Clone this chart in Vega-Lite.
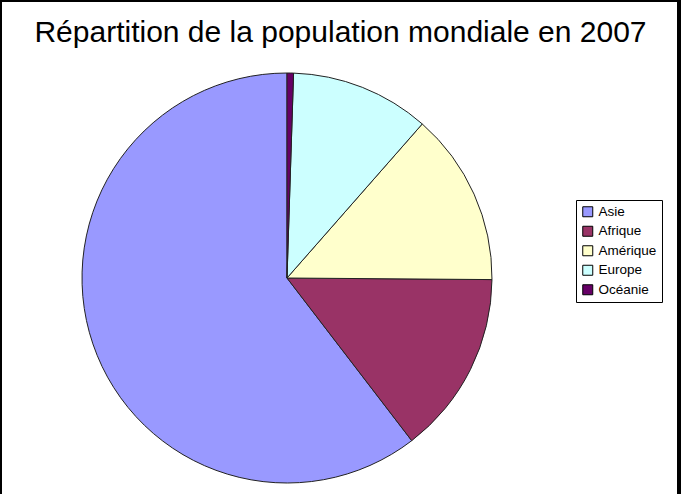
{
  "$schema": "https://vega.github.io/schema/vega-lite/v6.json",
  "width": 679,
  "height": 494,
  "autosize": {"type": "none"},
  "padding": {"left": 0, "top": 0, "right": 9, "bottom": 0},
  "background": "white",
  "title": {
    "text": "Répartition de la population mondiale en 2007",
    "font": "Liberation Sans",
    "fontSize": 30,
    "fontWeight": "normal",
    "color": "black",
    "anchor": "middle",
    "orient": "top",
    "baseline": "alphabetic",
    "offset": -43,
    "dy": 31,
    "dx": 1
  },
  "layer": [
    {
      "data": {"values": [{"cadre": 1}]},
      "mark": {"type": "rect", "fill": null, "stroke": "black", "strokeWidth": 4},
      "encoding": {"y": {"value": 0}, "y2": {"value": 504}}
    },
    {
      "data": {
        "values": [
          {"continent": "Asie", "population": 4030, "rang": 1},
          {"continent": "Afrique", "population": 965, "rang": 2},
          {"continent": "Amérique", "population": 911, "rang": 3},
          {"continent": "Europe", "population": 731, "rang": 4},
          {"continent": "Océanie", "population": 34, "rang": 5}
        ]
      },
      "mark": {"type": "arc", "outerRadius": 205, "stroke": "#222222", "strokeWidth": 1, "x": 287, "y": 278},
      "encoding": {
        "theta": {"field": "population", "type": "quantitative", "stack": true},
        "order": {"field": "rang", "type": "quantitative", "sort": "descending"},
        "color": {
          "field": "continent",
          "type": "nominal",
          "sort": ["Asie", "Afrique", "Amérique", "Europe", "Océanie"],
          "scale": {
            "domain": ["Asie", "Afrique", "Amérique", "Europe", "Océanie"],
            "range": ["#9999FF", "#993366", "#FFFFCC", "#CCFFFF", "#660066"]
          },
          "legend": {
            "title": null,
            "orient": "none",
            "legendX": 576,
            "legendY": 200,
            "symbolType": "square",
            "symbolSize": 100,
            "symbolStrokeColor": "black",
            "symbolStrokeWidth": 1,
            "symbolOpacity": 1,
            "labelFont": "Liberation Sans",
            "labelFontSize": 13.5,
            "labelColor": "black",
            "rowPadding": 4.5,
            "labelOffset": 4,
            "padding": 5,
            "strokeColor": "black",
            "fillColor": "white"
          }
        }
      }
    }
  ],
  "config": {
    "view": {"stroke": null}
  }
}
